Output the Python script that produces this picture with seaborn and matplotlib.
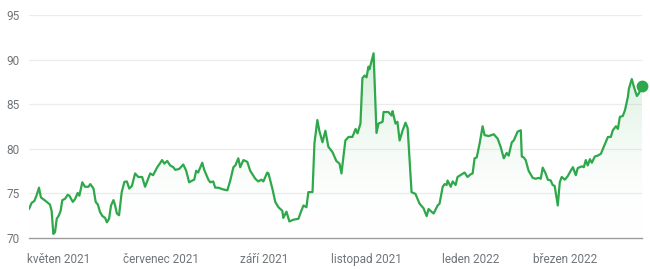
import numpy as np
import pandas as pd
import matplotlib
matplotlib.use("Agg")
import matplotlib.pyplot as plt
import seaborn as sns

# trading-session index (position along the year) and closing price
session = [0.0, 1.1, 2.2, 3.2, 4.1, 4.9, 5.9, 7.3, 8.6, 9.3, 10.0, 10.7, 11.4, 12.3, 13.0, 13.7,
           14.8, 15.9, 16.6, 18.0, 18.9, 20.0, 20.7, 21.9, 23.0, 24.4, 25.2, 26.5, 27.4, 28.3,
           29.2, 30.2, 31.3, 32.0, 32.9, 33.7, 34.7, 35.4, 36.1, 37.0, 38.1, 39.2, 40.2, 41.2,
           42.3, 43.6, 44.9, 46.5, 47.7, 49.8, 51.0, 52.7, 53.5, 54.7, 55.6, 56.8, 58.0, 59.3,
           60.1, 61.7, 63.4, 64.6, 65.8, 67.1, 67.9, 68.7, 69.5, 71.2, 72.0, 73.7, 74.5, 75.7,
           76.5, 77.8, 79.8, 81.5, 82.7, 84.0, 84.8, 86.0, 86.8, 88.1, 89.7, 90.9, 93.0, 94.2,
           95.5, 96.3, 97.9, 98.4, 100.0, 101.2, 102.5, 104.1, 104.5, 105.8, 107.0, 108.6,
           110.7, 111.9, 112.8, 114.0, 114.8, 116.5, 117.3, 118.5, 119.3, 120.6, 121.8, 123.0,
           124.7, 126.3, 127.6, 128.4, 129.2, 130.0, 131.3, 132.9, 134.2, 135.0, 136.2, 137.0,
           137.9, 138.7, 139.5, 139.9, 141.6, 142.8, 143.6, 145.3, 145.7, 147.7, 149.0, 149.4,
           150.6, 151.4, 152.3, 153.5, 154.7, 155.6, 157.2, 158.8, 160.5, 162.1, 163.4, 164.2,
           165.8, 166.3, 167.9, 168.7, 170.0, 170.8, 171.6, 172.0, 173.3, 174.1, 175.3, 176.1,
           177.8, 179.0, 180.2, 181.5, 182.3, 183.1, 184.0, 185.2, 186.4, 187.2, 188.9, 191.0,
           192.6, 193.8, 195.1, 196.3, 197.1, 198.4, 199.2, 200.8, 202.1, 202.5, 203.3, 204.1,
           205.3, 207.0, 208.2, 209.5, 210.3, 211.1, 212.3, 213.2, 214.4, 215.2, 216.0, 217.3,
           218.1, 218.9, 220.2, 221.4, 222.6, 223.5, 224.7, 225.5, 227.2, 228.0, 228.8, 229.6,
           230.5, 231.3, 232.5, 233.7, 235.0, 236.2, 237.9, 239.1, 239.9, 241.2, 242.0, 242.8,
           244.0, 244.9, 246.1, 246.5, 247.7, 248.6, 249.8, 250.6, 251.9]
price = [73.2, 73.9, 74.1, 74.8, 75.6, 74.5, 74.3, 74.0, 73.7, 73.0, 70.4, 70.6, 72.1, 72.5, 73.0, 74.2,
         74.35, 74.8, 74.7, 74.0, 74.3, 75.0, 74.7, 76.2, 75.7, 75.7, 76.0, 75.5, 74.0, 73.7,
         72.85, 72.4, 72.2, 71.7, 72.1, 73.6, 74.2, 73.6, 72.7, 72.5, 75.1, 76.25, 76.3, 75.5,
         75.8, 77.2, 76.8, 76.8, 75.7, 77.2, 77.0, 77.9, 78.2, 78.7, 78.3, 78.6, 78.1, 77.9,
         77.6, 77.7, 78.2, 77.5, 76.2, 76.4, 76.5, 77.5, 77.3, 78.4, 77.6, 76.5, 76.2, 76.3,
         75.6, 75.6, 75.4, 75.3, 76.4, 77.9, 78.1, 78.9, 77.9, 78.7, 78.5, 77.5, 76.6, 76.3,
         76.5, 76.3, 77.3, 77.2, 75.5, 74.0, 73.4, 73.0, 72.2, 72.9, 71.8, 72.0,
         72.1, 73.0, 73.6, 73.4, 75.1, 75.1, 80.6, 83.2, 82.0, 80.7, 82.0, 80.2,
         79.6, 78.6, 78.3, 77.2, 79.0, 80.9, 81.3, 81.3, 82.2, 81.7, 82.8, 87.9,
         88.2, 88.0, 89.2, 88.9, 90.7, 81.75, 82.8, 83.0, 84.1, 84.1, 83.7, 84.2,
         82.8, 83.0, 80.9, 82.0, 82.9, 82.3, 75.1, 74.9, 73.8, 73.3, 72.4, 73.2,
         72.8, 72.7, 73.6, 73.8, 75.7, 76.0, 75.9, 76.4, 75.7, 76.3, 75.9, 76.8,
         77.1, 77.3, 76.8, 77.1, 77.2, 78.9, 79.0, 80.6, 82.5, 81.5, 81.4, 81.6,
         81.1, 80.2, 78.9, 79.5, 79.2, 80.7, 80.9, 81.9, 82.05, 79.1, 79.0, 78.7,
         77.5, 76.7, 76.6, 76.7, 76.6, 77.85, 77.2, 76.5, 76.4, 75.9, 75.8, 73.6,
         76.2, 76.8, 76.5, 76.9, 77.5, 77.9, 77.0, 77.8, 78.0, 77.9, 78.7, 78.1,
         78.8, 78.4, 79.1, 79.2, 79.4, 80.2, 81.3, 81.3, 82.05, 82.5, 82.2, 83.55,
         83.65, 84.3, 85.8, 86.7, 87.8, 86.9, 85.9, 86.2, 87.0]

month_pos = [12.3, 54.3, 96.7, 138.7, 181.5, 220.2]
month_labels = ["květen 2021", "červenec 2021", "září 2021", "listopad 2021", "leden 2022", "březen 2022"]
y_ticks = [70, 75, 80, 85, 90, 95]

GREEN = "#2ea84a"
GRAY = "#70757a"

sns.set_style("white")
plt.rcParams["font.family"] = ["Roboto", "DejaVu Sans"]

df = pd.DataFrame({"session": session, "price": price})

fig = plt.figure(figsize=(6.5, 2.69), dpi=100)
ax = fig.add_axes([29 / 650, 1 - 237.5 / 269, (642 - 29) / 650, (237.5 - 15) / 269])

ymin, ymax = 70, 95
xmin, xmax = 0, 251.9

# gradient fill under the line
poly = ax.fill_between(df["session"], df["price"], ymin, color="none", lw=0)
grad = np.linspace(0, 1, 256).reshape(-1, 1)
from matplotlib.colors import LinearSegmentedColormap
cmap = LinearSegmentedColormap.from_list("g", [(1, 1, 1, 0.0), (0.18, 0.66, 0.29, 0.22)])
top_val = max(price)
im = ax.imshow(grad, extent=[xmin, xmax, ymin, top_val], origin="lower", aspect="auto",
               cmap=cmap, zorder=1)
path = poly.get_paths()[0]
im.set_clip_path(path, transform=ax.transData)

for yv in y_ticks[1:]:
    ax.axhline(yv, color="#ececec", lw=0.9, zorder=0)

sns.lineplot(data=df, x="session", y="price", ax=ax, color=GREEN, lw=1.6, zorder=3)
ax.plot([session[-1]], [price[-1]], "o", color=GREEN, ms=7.5, zorder=4, clip_on=False)

ax.set_xlim(xmin, xmax)
ax.set_ylim(ymin, ymax)
ax.set_xlabel("")
ax.set_ylabel("")
for s in ["top", "right", "left"]:
    ax.spines[s].set_visible(False)
ax.spines["bottom"].set_color("#9e9e9e")
ax.spines["bottom"].set_linewidth(1.0)

ax.set_xticks(month_pos)
ax.set_xticklabels(month_labels)
ax.set_yticks(y_ticks)
ax.set_yticklabels([str(v) for v in y_ticks])
ax.tick_params(axis="x", length=4, width=1.2, color="#5f6368", colors=GRAY, labelsize=8.5, pad=7)
ax.tick_params(axis="x", colors="#5f6368")
for lab in ax.get_xticklabels():
    lab.set_color(GRAY)
ax.tick_params(axis="y", length=0, labelsize=8.5, pad=7, labelcolor=GRAY)

fig.savefig("out.png", dpi=100, facecolor="white")
